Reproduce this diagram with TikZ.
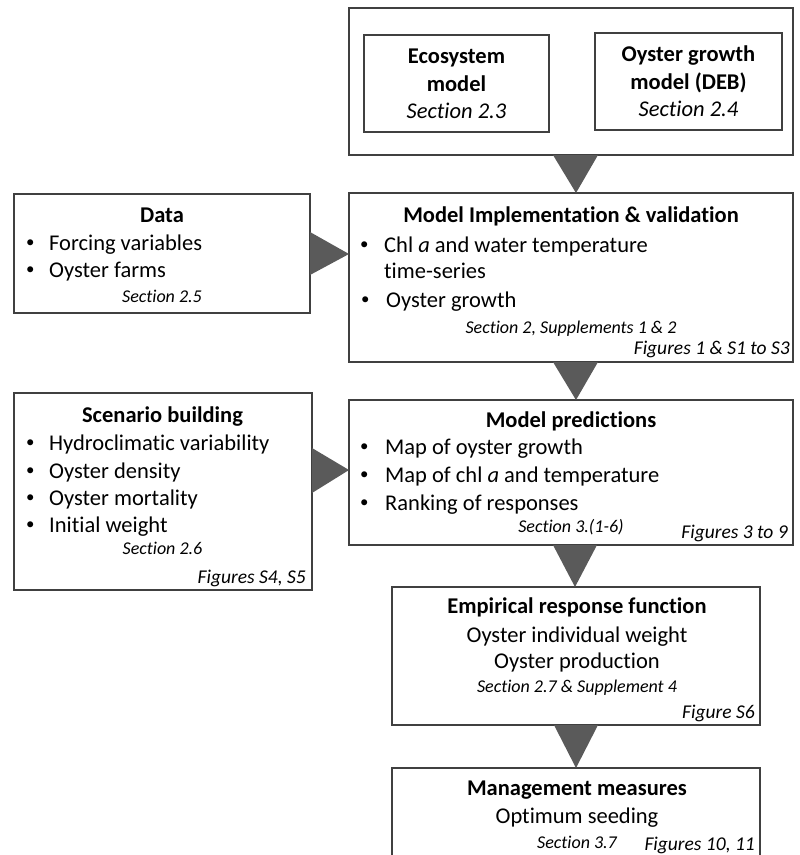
\documentclass[tikz,border=0pt]{standalone}
\usepackage{graphicx}
\usepackage{fontspec}
\setmainfont{Carlito}[Ligatures=NoCommon]
\usetikzlibrary{calc}
\definecolor{boxgray}{HTML}{404040}
\definecolor{trigray}{HTML}{5A5A5A}
\newcommand\mainsz{\fontsize{22.5}{27}\selectfont}
\newcommand\secsz{\fontsize{18}{21}\selectfont\itshape}
\newcommand\figsz{\fontsize{19.5}{23}\selectfont\itshape}
\newcommand\bul[1]{\makebox[#1pt][l]{\hspace{1.5pt}\raisebox{2.5pt}{\scalebox{0.75}{•}}}}
\tikzset{
  box/.style={draw=boxgray, line width=1.5pt, inner sep=0, outer sep=0},
  heavybox/.style={box, line width=2.8pt},
  txt/.style={inner sep=0, font=\mainsz},
  ttl/.style={txt, font=\mainsz\bfseries, anchor=base},
  sec/.style={inner sep=0, font=\secsz, anchor=base},
  fig/.style={inner sep=0, font=\figsz, anchor=base east},
  tri/.style={fill=trigray}
}
\begin{document}
\begin{tikzpicture}[x=1pt, y=-1pt]
\path[use as bounding box, clip] (0,0) rectangle (800,855);

% boxes
\node[box, minimum width=444, minimum height=147] (top) at (571,81.5) {};
\node[box, minimum width=185, minimum height=97] (eco) at (456.5,83.5) {};
\node[box, minimum width=187, minimum height=97] (deb) at (688.5,81.5) {};
\node[heavybox, minimum width=296, minimum height=119] (data) at (162,253.5) {};
\node[box, minimum width=444, minimum height=169] (impl) at (571,277.5) {};
\node[heavybox, minimum width=298, minimum height=197] (scen) at (163,491.5) {};
\node[box, minimum width=444, minimum height=145] (pred) at (571,472.5) {};
\node[box, minimum width=368, minimum height=138] (emp) at (576,656) {};
\node[box, minimum width=368, minimum height=112] (mgmt) at (576,824) {};

% top models
\node[ttl] (eco1) at (456.5,63) {Ecosystem};
\node[ttl] (eco2) at (456.5,91) {model};
\node[txt, anchor=base, font=\mainsz\itshape] (eco3) at (456.5,118) {Section 2.3};
\node[ttl] (deb1) at (688.5,61) {Oyster growth};
\node[ttl] (deb2) at (688.5,89) {model (DEB)};
\node[txt, anchor=base, font=\mainsz\itshape] (deb3) at (688.5,116) {Section 2.4};

% data
\node[ttl] (data0) at (162,222) {Data};
\node[txt, anchor=base west] (data1) at (24.5,250) {\bul{24.5}Forcing variables};
\node[txt, anchor=base west] (data2) at (24.5,277) {\bul{24.5}Oyster farms};
\node[sec] (data3) at (162,302) {Section 2.5};

% implementation
\node[ttl] (impl0) at (571,222) {Model Implementation \& validation};
\node[txt, anchor=base west] (impl1) at (358.5,252) {\bul{25.5}Chl \textit{a} and water temperature};
\node[txt, anchor=base west] (impl2) at (384,278) {time-series};
\node[txt, anchor=base west] (impl3) at (359.5,307) {\bul{26.5}Oyster growth};
\node[sec] (impl4) at (571,333) {Section 2, Supplements 1 \& 2};
\node[fig] (impl5) at (790,354) {Figures 1 \& S1 to S3};

% scenarios
\node[ttl] (scen0) at (162.5,422) {Scenario building};
\node[txt, anchor=base west] (scen1) at (24.5,450) {\bul{24.5}Hydroclimatic variability};
\node[txt, anchor=base west] (scen2) at (24.5,478) {\bul{24.5}Oyster density};
\node[txt, anchor=base west] (scen3) at (24.5,505) {\bul{24.5}Oyster mortality};
\node[txt, anchor=base west] (scen4) at (24.5,532) {\bul{24.5}Initial weight};
\node[sec] (scen5) at (162.5,554) {Section 2.6};
\node[fig] (scen6) at (306,583) {Figures S4, S5};

% predictions
\node[ttl] (pred0) at (571,427) {Model predictions};
\node[txt, anchor=base west] (pred1) at (358.5,454) {\bul{26.5}Map of oyster growth};
\node[txt, anchor=base west] (pred2) at (358.5,482) {\bul{26.5}Map of chl \textit{a} and temperature};
\node[txt, anchor=base west] (pred3) at (358.5,510) {\bul{26.5}Ranking of responses};
\node[sec] (pred4) at (571,532) {Section 3.(1-6)};
\node[fig] (pred5) at (788,538) {Figures 3 to 9};

% response function
\node[ttl] (emp0) at (577,613) {Empirical response function};
\node[txt, anchor=base] (emp1) at (577,642) {Oyster individual weight};
\node[txt, anchor=base] (emp2) at (577,668) {Oyster production};
\node[sec] (emp3) at (577,692) {Section 2.7 \& Supplement 4};
\node[fig] (emp4) at (755,718) {Figure S6};

% management
\node[ttl] (mgmt0) at (577,795) {Management measures};
\node[txt, anchor=base] (mgmt1) at (577,823) {Optimum seeding};
\node[sec] (mgmt2) at (577,848) {Section 3.7};
\node[fig] (mgmt3) at (755,850) {Figures 10, 11};

% triangle connectors
\fill[tri] ([xshift=-18pt]top.south) -- ([xshift=27pt]top.south) -- ([xshift=5pt]impl.north) -- cycle;
\fill[tri] ([xshift=-18pt]impl.south) -- ([xshift=27pt]impl.south) -- ([xshift=5pt]pred.north) -- cycle;
\fill[tri] ([xshift=-18pt]pred.south) -- ([xshift=26pt]pred.south) -- ([xshift=-1pt]emp.north) -- cycle;
\fill[tri] ([xshift=-22pt]emp.south) -- ([xshift=22pt]emp.south) -- (mgmt.north) -- cycle;
\fill[tri] ([yshift=21.5pt]data.east) -- ([yshift=-21.5pt]data.east) -- ([yshift=23.5pt]impl.west) -- cycle;
\fill[tri] ([yshift=43.5pt]scen.east) -- ([yshift=-1.5pt]scen.east) -- ([yshift=2.5pt]pred.west) -- cycle;
\end{tikzpicture}
\end{document}
